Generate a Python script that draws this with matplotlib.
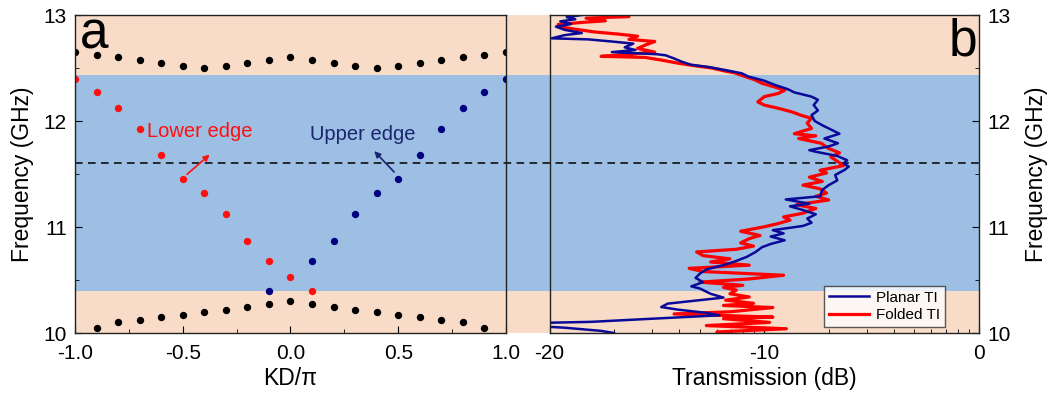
import numpy as np
import matplotlib
matplotlib.use("Agg")
import matplotlib.pyplot as plt
from matplotlib.ticker import FixedLocator, MultipleLocator

plt.rcParams['font.family'] = ['Liberation Sans', 'DejaVu Sans']
plt.rcParams['axes.unicode_minus'] = False

# ---- panel a: band diagram ----
kd_all = [-1.0, -0.9, -0.8, -0.7, -0.6, -0.5, -0.4, -0.3, -0.2, -0.1, 0.0,
          0.1, 0.2, 0.3, 0.4, 0.5, 0.6, 0.7, 0.8, 0.9, 1.0]
upper_bulk = [12.65, 12.62, 12.60, 12.575, 12.55, 12.52, 12.50, 12.52, 12.55, 12.575, 12.60,
              12.575, 12.55, 12.52, 12.50, 12.52, 12.55, 12.575, 12.60, 12.62, 12.65]
kd_lower_bulk = [-0.9, -0.8, -0.7, -0.6, -0.5, -0.4, -0.3, -0.2, -0.1, 0.0,
                 0.1, 0.2, 0.3, 0.4, 0.5, 0.6, 0.7, 0.8, 0.9]
lower_bulk = [10.05, 10.10, 10.12, 10.15, 10.17, 10.20, 10.22, 10.245, 10.27, 10.30,
              10.27, 10.245, 10.22, 10.20, 10.17, 10.15, 10.12, 10.10, 10.05]
kd_lower_edge = [-1.0, -0.9, -0.8, -0.7, -0.6, -0.5, -0.4, -0.3, -0.2, -0.1, 0.0, 0.1]
lower_edge = [12.40, 12.27, 12.12, 11.925, 11.675, 11.45, 11.32, 11.12, 10.87, 10.675, 10.525, 10.40]
kd_upper_edge = [-0.1, 0.1, 0.2, 0.3, 0.4, 0.5, 0.6, 0.7, 0.8, 0.9, 1.0]
upper_edge = [10.40, 10.675, 10.87, 11.12, 11.32, 11.45, 11.675, 11.925, 12.12, 12.27, 12.40]

gap_low, gap_high = 10.40, 12.435
f_mark = 11.6

# ---- panel b: measured transmission ----
f_planar = [10.00, 10.02, 10.05, 10.075, 10.095, 10.105, 10.167, 10.19, 10.22, 10.245,
            10.277, 10.31, 10.334, 10.37, 10.42, 10.44, 10.48, 10.52, 10.56, 10.60,
            10.64, 10.68, 10.72, 10.765, 10.81, 10.84, 10.875, 10.91, 10.94, 10.97,
            11.01, 11.04, 11.08, 11.12, 11.16, 11.195, 11.22, 11.26, 11.29, 11.35,
            11.395, 11.44, 11.49, 11.54, 11.57, 11.60, 11.63, 11.67, 11.71, 11.725,
            11.76, 11.79, 11.835, 11.88, 11.93, 11.96, 12.00, 12.055, 12.10, 12.15,
            12.20, 12.23, 12.27, 12.30, 12.34, 12.38, 12.42, 12.45, 12.48, 12.51,
            12.53, 12.56, 12.59, 12.62, 12.63, 12.65, 12.67, 12.695, 12.73, 12.75,
            12.77, 12.78, 12.81, 12.83, 12.86, 12.89, 12.915, 12.94, 12.96, 12.98, 13.00]
t_planar = [-17.0, -17.6, -19.3, -21.5, -20.5, -18.1, -12.1, -12.7, -14.0, -14.8,
            -14.5, -13.0, -11.9, -12.5, -13.0, -13.4, -12.85, -13.2, -13.0, -12.7,
            -11.9, -11.3, -10.8, -10.4, -10.1, -9.7, -9.05, -9.7, -9.1, -9.6,
            -8.2, -7.8, -8.0, -7.6, -8.2, -8.8, -7.9, -9.0, -7.4, -7.3,
            -7.0, -6.6, -6.7, -6.25, -6.07, -6.3, -6.14, -6.6, -7.6, -7.9,
            -7.0, -6.57, -7.2, -6.5, -7.0, -7.3, -7.65, -7.8, -7.5, -7.7,
            -7.5, -7.8, -8.6, -8.9, -9.5, -10.0, -10.75, -11.05, -11.8, -12.6,
            -13.4, -13.85, -14.2, -14.6, -15.0, -17.1, -16.0, -16.5, -16.1, -17.1,
            -18.2, -19.9, -19.3, -18.5, -19.3, -19.7, -19.0, -19.5, -18.8, -19.2, -18.5]

f_folded = [10.00, 10.01, 10.04, 10.07, 10.10, 10.135, 10.15, 10.18, 10.20, 10.24,
            10.26, 10.28, 10.31, 10.34, 10.37, 10.405, 10.43, 10.45, 10.48, 10.51,
            10.545, 10.58, 10.61, 10.64, 10.67, 10.70, 10.73, 10.765, 10.79, 10.82,
            10.85, 10.89, 10.92, 10.96, 11.00, 11.03, 11.065, 11.095, 11.13, 11.175,
            11.21, 11.255, 11.29, 11.32, 11.36, 11.395, 11.43, 11.47, 11.51, 11.535,
            11.58, 11.62, 11.66, 11.70, 11.74, 11.79, 11.835, 11.86, 11.88, 11.93,
            11.98, 12.025, 12.055, 12.085, 12.12, 12.15, 12.18, 12.23, 12.26, 12.29,
            12.32, 12.355, 12.39, 12.42, 12.455, 12.47, 12.50, 12.52, 12.545, 12.575,
            12.60, 12.61, 12.63, 12.65, 12.685, 12.72, 12.75, 12.77, 12.80, 12.82,
            12.84, 12.86, 12.885, 12.91, 12.93, 12.945, 12.97, 12.985, 13.00]
t_folded = [-12.2, -12.2, -8.97, -12.7, -9.75, -11.9, -9.6, -14.2, -11.6, -9.6,
            -11.9, -10.5, -11.8, -10.7, -11.6, -11.3, -11.9, -11.0, -13.0, -10.7,
            -9.1, -12.85, -13.5, -10.7, -12.5, -11.6, -12.85, -13.15, -11.3, -10.5,
            -11.1, -10.7, -10.2, -11.1, -10.05, -9.4, -8.8, -9.1, -8.2, -7.6,
            -8.5, -7.0, -7.6, -7.1, -7.4, -8.2, -7.3, -7.9, -7.1, -7.4,
            -6.3, -6.6, -6.9, -6.5, -7.0, -7.35, -8.4, -7.6, -8.6, -7.8,
            -8.0, -7.8, -8.3, -8.7, -9.35, -10.0, -10.3, -10.0, -9.35, -9.05,
            -9.5, -10.1, -10.45, -10.9, -11.4, -11.8, -12.45, -13.2, -14.0, -14.8,
            -15.55, -17.6, -16.3, -15.1, -15.9, -15.5, -15.1, -16.3, -15.9, -16.8,
            -17.9, -18.6, -19.4, -19.6, -18.5, -17.4, -18.3, -16.3, -16.5]

peach = '#F8DCC8'
gapblue = '#9DBFE3'
navy = '#000080'

fig = plt.figure(figsize=(10.56, 3.98), dpi=100)

# shared background with the bands and the dashed line
bg = fig.add_axes([0.0710, 0.1633, 0.8561, 0.7990], zorder=0)
bg.set_xlim(0, 1)
bg.set_ylim(10, 13)
bg.axhspan(10, gap_low, color=peach, lw=0)
bg.axhspan(gap_low, gap_high, color=gapblue, lw=0)
bg.axhspan(gap_high, 13, color=peach, lw=0)
bg.axhline(f_mark, color='black', ls=(0, (5, 3.5)), lw=1.1)
bg.axis('off')

ax1 = fig.add_axes([0.0710, 0.1633, 0.4081, 0.7990], zorder=1)
ax2 = fig.add_axes([0.5204, 0.1633, 0.4067, 0.7990], zorder=1)
for ax in (ax1, ax2):
    ax.patch.set_alpha(0)
    for s in ax.spines.values():
        s.set_linewidth(1.0)
        s.set_color('#222222')

ms = 5.3
ax1.plot(kd_all, upper_bulk, 'o', color='black', ms=ms, mew=0)
ax1.plot(kd_lower_bulk, lower_bulk, 'o', color='black', ms=ms, mew=0)
ax1.plot(kd_lower_edge, lower_edge, 'o', color='#FF1010', ms=ms, mew=0)
ax1.plot(kd_upper_edge, upper_edge, 'o', color=navy, ms=ms, mew=0)
ax1.set_xlim(-1, 1)
ax1.set_ylim(10, 13)
ax1.xaxis.set_major_locator(MultipleLocator(0.5))
ax1.xaxis.set_minor_locator(MultipleLocator(0.25))
ax1.yaxis.set_major_locator(MultipleLocator(1))
ax1.yaxis.set_minor_locator(MultipleLocator(0.5))
ax1.xaxis.set_major_formatter(plt.FormatStrFormatter('%.1f'))
ax1.tick_params(which='both', direction='in', labelsize=15, top=False, right=False)
ax1.tick_params(which='major', length=5)
ax1.tick_params(which='minor', length=3)
ax1.tick_params(axis='x', pad=8)
ax1.tick_params(axis='y', pad=6)
ax1.set_xlabel('KD/\u03c0', fontsize=16.5, labelpad=3)
ax1.set_ylabel('Frequency (GHz)', fontsize=16.5, labelpad=7)
ax1.text(0.012, 0.895, 'a', transform=ax1.transAxes, fontsize=37, va='baseline', ha='left')

ax1.annotate('', xy=(-0.365, 11.70), xytext=(-0.49, 11.48),
             arrowprops=dict(arrowstyle='-|>', color='#FF1010', lw=1.2, mutation_scale=9))
ax1.text(-0.665, 11.90, 'Lower edge', color='#FF1010', fontsize=14.5, va='center', ha='left')
ax1.annotate('', xy=(0.38, 11.735), xytext=(0.49, 11.50),
             arrowprops=dict(arrowstyle='-|>', color='#1A2470', lw=1.2, mutation_scale=9))
ax1.text(0.09, 11.87, 'Upper edge', color='#1A2470', fontsize=14.5, va='center', ha='left')

ax2.plot(t_folded, f_folded, color='#FF0000', lw=2.3, label='Folded TI')
ax2.plot(t_planar, f_planar, color='#0A0A9A', lw=1.8, label='Planar TI')
ax2.set_xlim(-20, 0)
ax2.set_ylim(10, 13)
ax2.xaxis.set_major_locator(FixedLocator([-20, -10, 0]))
minor_x = [-20 + 10 * np.log10(n) for n in range(2, 10)] + [-10 + 10 * np.log10(n) for n in range(2, 10)]
ax2.xaxis.set_minor_locator(FixedLocator(minor_x))
ax2.yaxis.set_major_locator(MultipleLocator(1))
ax2.yaxis.set_minor_locator(MultipleLocator(0.5))
ax2.yaxis.tick_right()
ax2.yaxis.set_label_position('right')
ax2.tick_params(which='both', direction='in', labelsize=15, top=False, left=False,
                right=True, labelright=True, labelleft=False)
ax2.tick_params(which='major', length=5)
ax2.tick_params(which='minor', length=3)
ax2.tick_params(axis='x', pad=8)
ax2.tick_params(axis='y', pad=6)
ax2.set_xlabel('Transmission (dB)', fontsize=16.5, labelpad=3)
ax2.set_ylabel('Frequency (GHz)', fontsize=16.5, labelpad=10)
ax2.text(0.995, 0.874, 'b', transform=ax2.transAxes, fontsize=37, va='baseline', ha='right')

handles, labels = ax2.get_legend_handles_labels()
leg = ax2.legend(handles[::-1], labels[::-1], loc='lower right', bbox_to_anchor=(0.921, 0.019),
                 borderaxespad=0, fontsize=11, frameon=True, fancybox=False,
                 handlelength=2.6, handletextpad=0.5, borderpad=0.3, labelspacing=0.25)
leg.get_frame().set_edgecolor('#333333')
leg.get_frame().set_linewidth(1.0)

fig.savefig('out.png', dpi=100)
